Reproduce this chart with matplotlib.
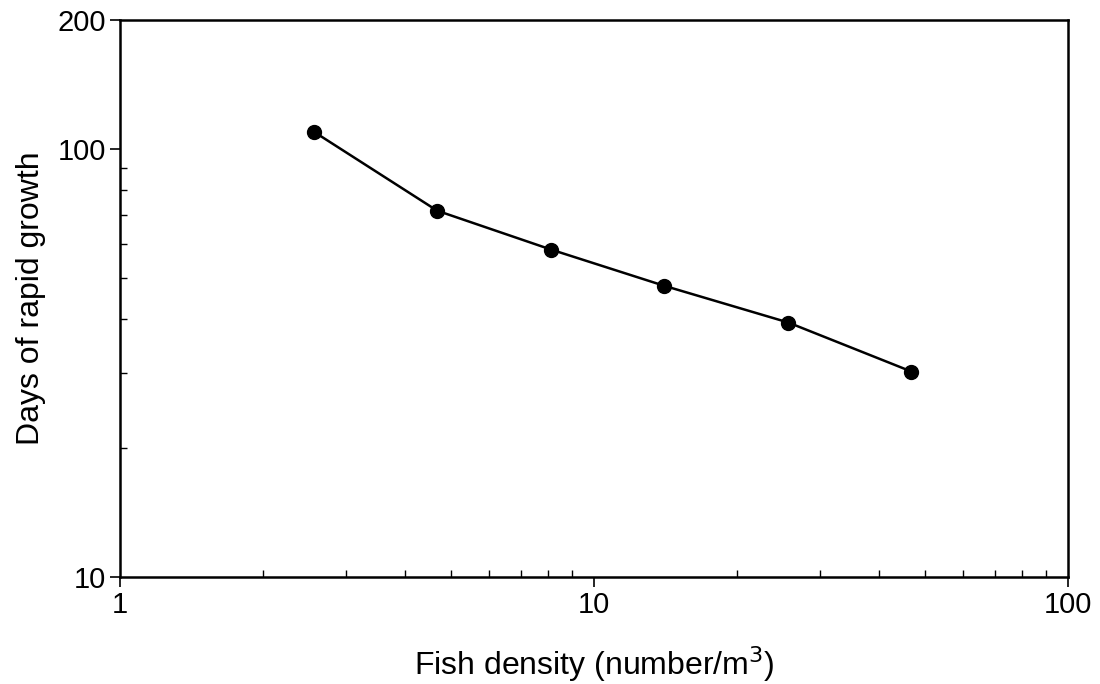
import matplotlib
matplotlib.use("Agg")
import matplotlib.pyplot as plt
from matplotlib.ticker import LogLocator, FixedLocator, NullFormatter

plt.rcParams['font.family'] = ['Liberation Sans', 'DejaVu Sans']

density = [2.57, 4.67, 8.11, 14.05, 25.7, 46.7]
days = [109.5, 71.7, 58.2, 47.9, 39.3, 30.2]
xticks = [1, 10, 100]
yticks = [10, 100, 200]

fig = plt.figure(figsize=(11, 6.84), dpi=100)
ax = fig.add_axes([0.109, 0.1564, 0.862, 0.8144])
ax.plot(density, days, color='black', lw=1.8, marker='o', ms=10, mfc='black', mec='black')
ax.set_xscale('log')
ax.set_yscale('log')
ax.set_xlim(1, 100)
ax.set_ylim(10, 200)
ax.xaxis.set_major_locator(FixedLocator(xticks))
ax.yaxis.set_major_locator(FixedLocator(yticks))
ax.set_xticklabels([str(t) for t in xticks])
ax.set_yticklabels([str(t) for t in yticks])
ax.xaxis.set_minor_locator(LogLocator(base=10, subs=range(2, 10)))
ax.yaxis.set_minor_locator(LogLocator(base=10, subs=range(2, 10)))
ax.xaxis.set_minor_formatter(NullFormatter())
ax.yaxis.set_minor_formatter(NullFormatter())
ax.tick_params(which='major', direction='out', length=7, width=1.2, labelsize=21, pad=3, top=False, right=False)
ax.tick_params(which='minor', direction='in', length=5, width=1, top=False, right=False)
for s in ax.spines.values():
    s.set_linewidth(1.8)
ax.set_xlabel('Fish density (number/m$^3$)', fontsize=23, labelpad=18)
ax.set_ylabel('Days of rapid growth', fontsize=23, labelpad=8)
fig.savefig('out.png', dpi=100)
